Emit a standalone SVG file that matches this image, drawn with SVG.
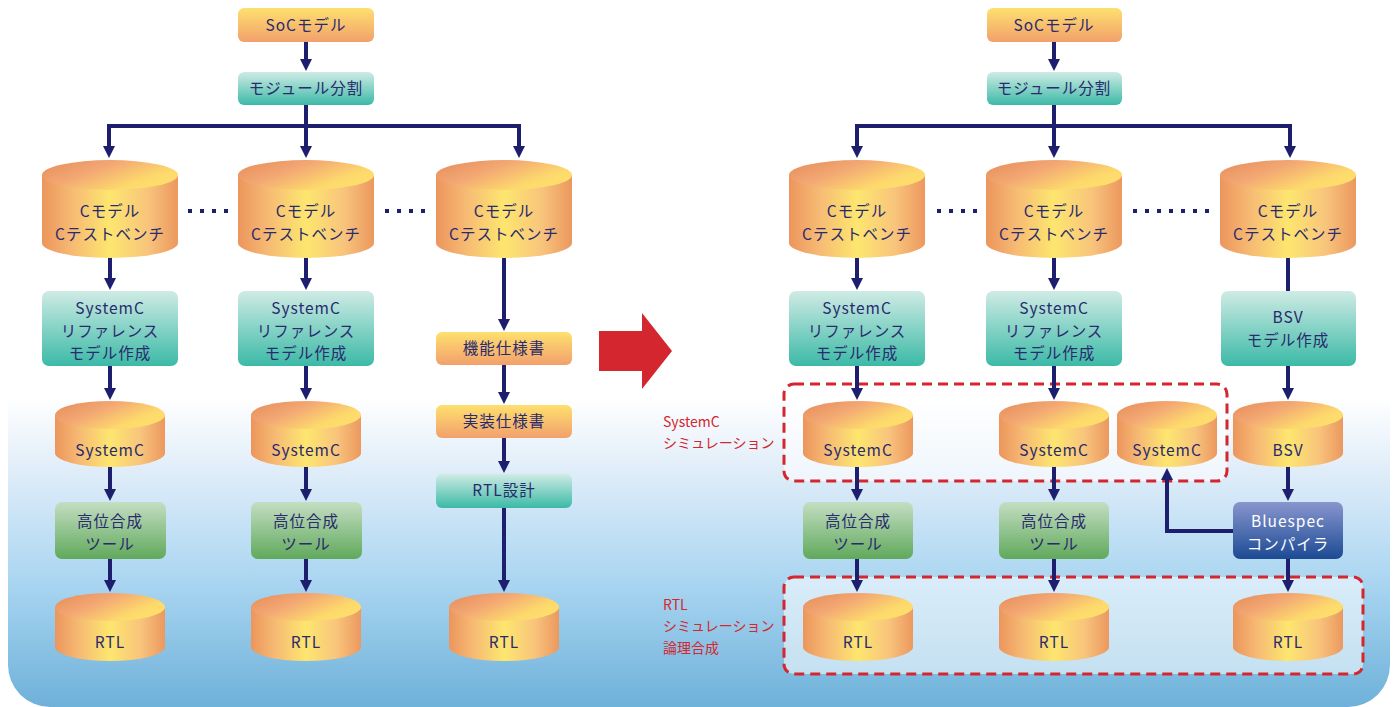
<svg xmlns="http://www.w3.org/2000/svg" width="1396" height="707" viewBox="0 0 1396 707">
<defs>
<linearGradient id="bg" x1="0" y1="0" x2="0" y2="1">
<stop offset="0" stop-color="#FFFFFF"/>
<stop offset="0.22" stop-color="#E2EEF9"/>
<stop offset="0.6" stop-color="#A9D5F1"/>
<stop offset="1" stop-color="#6EB1D9"/>
</linearGradient>
<linearGradient id="side" x1="0" y1="0" x2="1" y2="0">
<stop offset="0" stop-color="#EC955C"/>
<stop offset="0.22" stop-color="#F6BA74"/>
<stop offset="0.5" stop-color="#FDE66F"/>
<stop offset="0.78" stop-color="#F8C47C"/>
<stop offset="1" stop-color="#EC985E"/>
</linearGradient>
<linearGradient id="top" x1="0" y1="0.2" x2="1" y2="0.8">
<stop offset="0" stop-color="#E8915E"/>
<stop offset="0.35" stop-color="#F3A874"/>
<stop offset="0.75" stop-color="#FDD96C"/>
<stop offset="1" stop-color="#FEE06C"/>
</linearGradient>
<linearGradient id="gYel" x1="0" y1="0" x2="0" y2="1">
<stop offset="0" stop-color="#FEE06E"/>
<stop offset="1" stop-color="#F2A06C"/>
</linearGradient>
<linearGradient id="gTeal" x1="0" y1="0" x2="0" y2="1">
<stop offset="0" stop-color="#CFEBE5"/>
<stop offset="1" stop-color="#3BBAA6"/>
</linearGradient>
<linearGradient id="gGreen" x1="0" y1="0" x2="0" y2="1">
<stop offset="0" stop-color="#C4DEC2"/>
<stop offset="1" stop-color="#60A95C"/>
</linearGradient>
<linearGradient id="gBlue" x1="0" y1="0" x2="0" y2="1">
<stop offset="0" stop-color="#8896CE"/>
<stop offset="1" stop-color="#1C4A94"/>
</linearGradient>
<marker id="ah" markerUnits="userSpaceOnUse" markerWidth="12" markerHeight="12" viewBox="0 0 12 12" refX="2" refY="6" orient="auto">
<path d="M0,0 L12,6 L0,12 Z" fill="#1E1E6E"/>
</marker>
<style>
.t{font-family:"Noto Sans CJK JP","Noto Sans",sans-serif;font-size:15.5px;letter-spacing:1px;fill:#2A2A6E;text-anchor:middle}
.w{fill:#FFFFFF}
.r{font-family:"Noto Sans CJK JP","Noto Sans",sans-serif;font-size:14px;fill:#D4262E}
.side{fill:url(#side)}
.top{fill:url(#top)}
.ln{fill:none;stroke:#1E1E6E;stroke-width:4}
.ar{marker-end:url(#ah)}
.dot{fill:none;stroke:#1E1E6E;stroke-width:4;stroke-dasharray:4 8}
.dash{stroke:#D4262E;stroke-width:3;stroke-dasharray:10 6;fill:#FFFFFF;fill-opacity:0.55}
</style>
</defs>

<path id="background" d="M8,398 H1390 V665 A42,42 0 0 1 1348,707 H50 A42,42 0 0 1 8,665 Z" fill="url(#bg)"/>

<g id="groups">
<rect x="784" y="384" width="443" height="97" rx="10" class="dash"/>
<rect x="784" y="577" width="579" height="97" rx="10" class="dash"/>
<text class="r" x="663" y="427">SystemC</text>
<text class="r" x="663" y="448">シミュレーション</text>
<text class="r" x="663" y="610">RTL</text>
<text class="r" x="663" y="631">シミュレーション</text>
<text class="r" x="663" y="653">論理合成</text>
</g>

<polygon id="big-arrow" points="599,331 642,331 642,313 672,351 642,389 642,371 599,371" fill="#D4262E"/>

<g id="connectors">
<line class="ln ar" x1="306" y1="42" x2="306" y2="61"/>
<polyline class="ln" points="306,105 306,126"/>
<polyline class="ln" points="109,126 519,126"/>
<line class="ln ar" x1="109" y1="124" x2="109" y2="148"/>
<line class="ln ar" x1="306" y1="124" x2="306" y2="148"/>
<line class="ln ar" x1="519" y1="124" x2="519" y2="148"/>
<line class="ln ar" x1="110" y1="257" x2="110" y2="280"/>
<line class="ln ar" x1="306" y1="257" x2="306" y2="280"/>
<line class="ln ar" x1="504" y1="257" x2="504" y2="321"/>
<line class="ln ar" x1="110" y1="366" x2="110" y2="390"/>
<line class="ln ar" x1="306" y1="366" x2="306" y2="390"/>
<line class="ln ar" x1="110" y1="466" x2="110" y2="491"/>
<line class="ln ar" x1="306" y1="466" x2="306" y2="491"/>
<line class="ln ar" x1="110" y1="559" x2="110" y2="582"/>
<line class="ln ar" x1="306" y1="559" x2="306" y2="582"/>
<line class="ln ar" x1="504" y1="365" x2="504" y2="394"/>
<line class="ln ar" x1="504" y1="438" x2="504" y2="463"/>
<line class="ln ar" x1="504" y1="508" x2="504" y2="582"/>
<line class="dot" x1="188" y1="211" x2="232" y2="211"/>
<line class="dot" x1="385" y1="211" x2="429" y2="211"/>
<line class="ln ar" x1="1054" y1="42" x2="1054" y2="61"/>
<polyline class="ln" points="1054,105 1054,126"/>
<polyline class="ln" points="857,126 1290,126"/>
<line class="ln ar" x1="857" y1="124" x2="857" y2="148"/>
<line class="ln ar" x1="1054" y1="124" x2="1054" y2="148"/>
<line class="ln ar" x1="1290" y1="124" x2="1290" y2="148"/>
<line class="ln ar" x1="857" y1="257" x2="857" y2="280"/>
<line class="ln ar" x1="1054" y1="257" x2="1054" y2="280"/>
<line class="ln" x1="1288" y1="257" x2="1288" y2="291"/>
<line class="ln ar" x1="857" y1="366" x2="857" y2="390"/>
<line class="ln ar" x1="1054" y1="366" x2="1054" y2="390"/>
<line class="ln ar" x1="1288" y1="366" x2="1288" y2="390"/>
<line class="ln ar" x1="857" y1="466" x2="857" y2="491"/>
<line class="ln ar" x1="1054" y1="466" x2="1054" y2="491"/>
<line class="ln ar" x1="1288" y1="466" x2="1288" y2="491"/>
<line class="ln ar" x1="857" y1="559" x2="857" y2="582"/>
<line class="ln ar" x1="1054" y1="559" x2="1054" y2="582"/>
<line class="ln ar" x1="1288" y1="559" x2="1288" y2="582"/>
<polyline class="ln ar" points="1234,531 1167,531 1167,478"/>
<line class="dot" x1="937" y1="211" x2="981" y2="211"/>
<line class="dot" x1="1133" y1="211" x2="1213" y2="211"/>
</g>

<g id="soc-l"><rect x="238" y="8" width="136" height="34" rx="6" fill="url(#gYel)"/><text class="t" x="306" y="31">SoCモデル</text></g>
<g id="mod-l"><rect x="238" y="72" width="136" height="33" rx="6" fill="url(#gTeal)"/><text class="t" x="306" y="94">モジュール分割</text></g>

<g id="cm-l1"><path class="side" d="M42,175 V243 A68,15 0 0 0 178,243 V175 Z"/><ellipse class="top" cx="110" cy="175" rx="68" ry="15"/><text class="t" x="110" y="217">Cモデル</text><text class="t" x="110" y="240">Cテストベンチ</text></g>
<g id="cm-l2"><path class="side" d="M238,175 V243 A68,15 0 0 0 374,243 V175 Z"/><ellipse class="top" cx="306" cy="175" rx="68" ry="15"/><text class="t" x="306" y="217">Cモデル</text><text class="t" x="306" y="240">Cテストベンチ</text></g>
<g id="cm-l3"><path class="side" d="M436,175 V243 A68,15 0 0 0 572,243 V175 Z"/><ellipse class="top" cx="504" cy="175" rx="68" ry="15"/><text class="t" x="504" y="217">Cモデル</text><text class="t" x="504" y="240">Cテストベンチ</text></g>

<g id="ref-l1"><rect x="42" y="291" width="136" height="75" rx="7" fill="url(#gTeal)"/><text class="t" x="110" y="314">SystemC</text><text class="t" x="110" y="336.5">リファレンス</text><text class="t" x="110" y="359">モデル作成</text></g>
<g id="ref-l2"><rect x="238" y="291" width="136" height="75" rx="7" fill="url(#gTeal)"/><text class="t" x="306" y="314">SystemC</text><text class="t" x="306" y="336.5">リファレンス</text><text class="t" x="306" y="359">モデル作成</text></g>

<g id="spec1"><rect x="436" y="332" width="136" height="33" rx="6" fill="url(#gYel)"/><text class="t" x="504" y="354">機能仕様書</text></g>
<g id="spec2"><rect x="436" y="405" width="136" height="33" rx="6" fill="url(#gYel)"/><text class="t" x="504" y="427">実装仕様書</text></g>
<g id="rtld"><rect x="436" y="474" width="136" height="34" rx="6" fill="url(#gTeal)"/><text class="t" x="504" y="496">RTL設計</text></g>

<g id="sc-l1"><path class="side" d="M55,415 V453 A55,14 0 0 0 165,453 V415 Z"/><ellipse class="top" cx="110" cy="415" rx="55" ry="14"/><text class="t" x="110" y="456">SystemC</text></g>
<g id="sc-l2"><path class="side" d="M251,415 V453 A55,14 0 0 0 361,453 V415 Z"/><ellipse class="top" cx="306" cy="415" rx="55" ry="14"/><text class="t" x="306" y="456">SystemC</text></g>

<g id="hls-l1"><rect x="55" y="502" width="111" height="57" rx="7" fill="url(#gGreen)"/><text class="t" x="110" y="527">高位合成</text><text class="t" x="110" y="550">ツール</text></g>
<g id="hls-l2"><rect x="251" y="502" width="111" height="57" rx="7" fill="url(#gGreen)"/><text class="t" x="306" y="527">高位合成</text><text class="t" x="306" y="550">ツール</text></g>

<g id="rtl-l1"><path class="side" d="M55,607 V647 A55,14 0 0 0 165,647 V607 Z"/><ellipse class="top" cx="110" cy="607" rx="55" ry="14"/><text class="t" x="110" y="648">RTL</text></g>
<g id="rtl-l2"><path class="side" d="M251,607 V647 A55,14 0 0 0 361,647 V607 Z"/><ellipse class="top" cx="306" cy="607" rx="55" ry="14"/><text class="t" x="306" y="648">RTL</text></g>
<g id="rtl-l3"><path class="side" d="M449,607 V647 A55,14 0 0 0 559,647 V607 Z"/><ellipse class="top" cx="504" cy="607" rx="55" ry="14"/><text class="t" x="504" y="648">RTL</text></g>

<g id="soc-r"><rect x="987" y="8" width="135" height="34" rx="6" fill="url(#gYel)"/><text class="t" x="1054" y="31">SoCモデル</text></g>
<g id="mod-r"><rect x="987" y="72" width="135" height="33" rx="6" fill="url(#gTeal)"/><text class="t" x="1054" y="94">モジュール分割</text></g>

<g id="cm-r1"><path class="side" d="M789,175 V243 A68,15 0 0 0 925,243 V175 Z"/><ellipse class="top" cx="857" cy="175" rx="68" ry="15"/><text class="t" x="857" y="217">Cモデル</text><text class="t" x="857" y="240">Cテストベンチ</text></g>
<g id="cm-r2"><path class="side" d="M986,175 V243 A68,15 0 0 0 1122,243 V175 Z"/><ellipse class="top" cx="1054" cy="175" rx="68" ry="15"/><text class="t" x="1054" y="217">Cモデル</text><text class="t" x="1054" y="240">Cテストベンチ</text></g>
<g id="cm-r3"><path class="side" d="M1220,175 V243 A68,15 0 0 0 1356,243 V175 Z"/><ellipse class="top" cx="1288" cy="175" rx="68" ry="15"/><text class="t" x="1288" y="217">Cモデル</text><text class="t" x="1288" y="240">Cテストベンチ</text></g>

<g id="ref-r1"><rect x="789" y="291" width="136" height="75" rx="7" fill="url(#gTeal)"/><text class="t" x="857" y="314">SystemC</text><text class="t" x="857" y="336.5">リファレンス</text><text class="t" x="857" y="359">モデル作成</text></g>
<g id="ref-r2"><rect x="986" y="291" width="136" height="75" rx="7" fill="url(#gTeal)"/><text class="t" x="1054" y="314">SystemC</text><text class="t" x="1054" y="336.5">リファレンス</text><text class="t" x="1054" y="359">モデル作成</text></g>
<g id="bsvm"><rect x="1221" y="291" width="135" height="75" rx="7" fill="url(#gTeal)"/><text class="t" x="1288" y="323">BSV</text><text class="t" x="1288" y="346">モデル作成</text></g>

<g id="sc-r1"><path class="side" d="M803,415 V453 A55,14 0 0 0 913,453 V415 Z"/><ellipse class="top" cx="858" cy="415" rx="55" ry="14"/><text class="t" x="858" y="456">SystemC</text></g>
<g id="sc-r2"><path class="side" d="M999,415 V453 A55,14 0 0 0 1109,453 V415 Z"/><ellipse class="top" cx="1054" cy="415" rx="55" ry="14"/><text class="t" x="1054" y="456">SystemC</text></g>
<g id="sc-r3"><path class="side" d="M1117,415 V453 A50,14 0 0 0 1217,453 V415 Z"/><ellipse class="top" cx="1167" cy="415" rx="50" ry="14"/><text class="t" x="1167" y="456">SystemC</text></g>
<g id="bsv"><path class="side" d="M1233,415 V453 A55,14 0 0 0 1343,453 V415 Z"/><ellipse class="top" cx="1288" cy="415" rx="55" ry="14"/><text class="t" x="1288" y="456">BSV</text></g>

<g id="hls-r1"><rect x="803" y="502" width="110" height="57" rx="7" fill="url(#gGreen)"/><text class="t" x="858" y="527">高位合成</text><text class="t" x="858" y="550">ツール</text></g>
<g id="hls-r2"><rect x="999" y="502" width="110" height="57" rx="7" fill="url(#gGreen)"/><text class="t" x="1054" y="527">高位合成</text><text class="t" x="1054" y="550">ツール</text></g>
<g id="bluespec"><rect x="1233" y="502" width="110" height="57" rx="7" fill="url(#gBlue)"/><text class="t w" x="1288" y="527">Bluespec</text><text class="t w" x="1288" y="550">コンパイラ</text></g>

<g id="rtl-r1"><path class="side" d="M803,607 V647 A55,14 0 0 0 913,647 V607 Z"/><ellipse class="top" cx="858" cy="607" rx="55" ry="14"/><text class="t" x="858" y="648">RTL</text></g>
<g id="rtl-r2"><path class="side" d="M999,607 V647 A55,14 0 0 0 1109,647 V607 Z"/><ellipse class="top" cx="1054" cy="607" rx="55" ry="14"/><text class="t" x="1054" y="648">RTL</text></g>
<g id="rtl-r3"><path class="side" d="M1233,607 V647 A55,14 0 0 0 1343,647 V607 Z"/><ellipse class="top" cx="1288" cy="607" rx="55" ry="14"/><text class="t" x="1288" y="648">RTL</text></g>
</svg>
